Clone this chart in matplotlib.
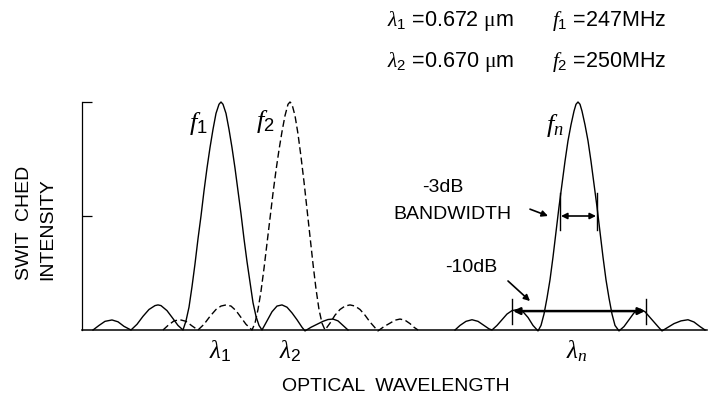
import matplotlib.pyplot as plt

plt.rcParams['font.family'] = 'Liberation Sans'
plt.rcParams['mathtext.fontset'] = 'custom'
plt.rcParams['mathtext.it'] = 'Liberation Serif:italic'
plt.rcParams['mathtext.rm'] = 'Liberation Sans'
plt.rcParams['mathtext.cal'] = 'Liberation Serif'

# curves: x = position along the wavelength axis, y = relative intensity
f1_x = [93, 99, 105, 112, 118, 124, 131, 137, 143, 149, 155, 158, 161, 167, 173, 178, 183,
        186, 189, 192, 195, 198, 201, 204, 207, 210, 213, 216, 219, 221,
        223, 226, 229, 232, 235, 238, 241, 244, 247, 250, 253, 256, 259, 262,
        267, 272, 277, 282, 287, 292, 297, 302, 305, 311, 317, 323, 328, 333, 338, 343, 348]
f1_y = [0, 0.02, 0.038, 0.044, 0.036, 0.016, 0, 0.025, 0.06, 0.09, 0.107, 0.11, 0.107, 0.085, 0.05, 0.02, 0,
        0.04, 0.1, 0.19, 0.29, 0.4, 0.5, 0.61, 0.71, 0.8, 0.88, 0.95, 0.99, 1.0,
        0.99, 0.95, 0.88, 0.8, 0.71, 0.61, 0.51, 0.4, 0.3, 0.21, 0.12, 0.06, 0.02, 0,
        0.04, 0.08, 0.105, 0.11, 0.1, 0.075, 0.045, 0.012, -0.004, 0.012, 0.025, 0.038, 0.046, 0.048, 0.04, 0.02, 0]

f2_x = [163, 168, 174, 180, 186, 192, 198, 204, 210, 216, 221, 226, 231, 236, 241, 246, 252,
        255, 258, 261, 264, 267, 270, 273, 276, 279, 282, 285, 288, 290,
        292, 295, 298, 301, 304, 307, 310, 313, 316, 319, 322, 325,
        330, 335, 340, 345, 350, 355, 360, 365, 370, 375, 378,
        384, 390, 395, 400, 405, 410, 414, 418]
f2_y = [0, 0.02, 0.04, 0.045, 0.038, 0.018, 0, 0.025, 0.06, 0.09, 0.105, 0.11, 0.105, 0.085, 0.055, 0.025, 0,
        0.03, 0.09, 0.17, 0.27, 0.38, 0.49, 0.6, 0.7, 0.79, 0.87, 0.94, 0.99, 1.0,
        0.99, 0.94, 0.86, 0.76, 0.65, 0.53, 0.41, 0.29, 0.18, 0.09, 0.03, 0,
        0.03, 0.065, 0.09, 0.105, 0.11, 0.105, 0.09, 0.065, 0.035, 0.01, -0.004,
        0.015, 0.03, 0.043, 0.048, 0.043, 0.028, 0.012, 0]

fn_x = [455, 460, 466, 472, 478, 484, 489, 492, 497, 502, 507, 512, 518, 523, 528, 533, 538,
        541, 544, 547, 550, 553, 556, 559, 562, 565, 568, 571, 574, 576, 578,
        580, 582, 585, 588, 591, 594, 597, 600, 603, 606, 609, 612, 615, 619,
        624, 629, 634, 640, 645, 650, 655, 659, 662,
        668, 674, 681, 688, 694, 700, 705]
fn_y = [0, 0.02, 0.038, 0.045, 0.038, 0.02, 0.005, 0, 0.02, 0.045, 0.07, 0.085, 0.09, 0.08, 0.055, 0.02, -0.004,
        0.02, 0.07, 0.14, 0.22, 0.32, 0.43, 0.54, 0.64, 0.74, 0.83, 0.9, 0.96, 0.99, 1.0,
        0.99, 0.96, 0.9, 0.83, 0.74, 0.64, 0.54, 0.43, 0.32, 0.22, 0.14, 0.07, 0.02, -0.004,
        0.015, 0.045, 0.075, 0.092, 0.08, 0.055, 0.03, 0.01, -0.004,
        0.012, 0.028, 0.04, 0.045, 0.035, 0.015, 0]

lambda_pos = [220, 290, 577]
lambda_labels = [r'$\lambda_1$', r'$\lambda_2$', r'$\lambda_n$']

# bandwidth markers on f_n
bw3_x = [560, 597]
bw3_y = 0.5
bw10_x = [512, 646]
bw10_y = 0.083

fig = plt.figure(figsize=(7.11, 4.06), dpi=100)
ax = fig.add_axes([82 / 711, 75 / 406, 625 / 711, 228 / 406])

ax.plot(f1_x, f1_y, color='black', lw=1.0, clip_on=False)
ax.plot(f2_x, f2_y, color='black', lw=1.0, ls=(0, (5, 2.5)), clip_on=False)
ax.plot(fn_x, fn_y, color='black', lw=1.0, clip_on=False)

ax.set_xlim(82, 707)
ax.set_ylim(0, 1)
for s in ['top', 'right']:
    ax.spines[s].set_visible(False)
ax.spines['left'].set_linewidth(0.9)
ax.spines['bottom'].set_linewidth(1.1)

ax.set_yticks([0.5, 1.0])
ax.set_yticklabels([])
ax.tick_params(axis='y', direction='in', length=7, width=0.9)
ax.set_xticks(lambda_pos)
ax.set_xticklabels(lambda_labels, fontsize=18)
ax.tick_params(axis='x', length=0, pad=5)

# -3dB bandwidth
for x in bw3_x:
    ax.plot([x, x], [bw3_y - 0.06, bw3_y + 0.1], color='black', lw=1.0)
ax.annotate('', xy=(bw3_x[0] + 1, bw3_y), xytext=(bw3_x[1] - 1, bw3_y),
            arrowprops=dict(arrowstyle='<|-|>', color='black', lw=1.2, mutation_scale=9,
                            shrinkA=0, shrinkB=0))
ax.annotate('', xy=(548, 0.5), xytext=(530, 0.53),
            arrowprops=dict(arrowstyle='-|>', color='black', lw=1.2, mutation_scale=9,
                            shrinkA=0, shrinkB=0))
ax.text(443, 0.63, '-3dB', fontsize=14, ha='center', va='center')
ax.text(452, 0.51, 'BANDWIDTH', fontsize=14, ha='center', va='center')

# -10dB bandwidth
for x in bw10_x:
    ax.plot([x, x], [bw10_y - 0.055, bw10_y + 0.055], color='black', lw=1.0)
ax.annotate('', xy=(bw10_x[0] + 1, bw10_y), xytext=(bw10_x[1] - 1, bw10_y),
            arrowprops=dict(arrowstyle='<|-|>', color='black', lw=1.8, mutation_scale=10,
                            shrinkA=0, shrinkB=0))
ax.annotate('', xy=(530, 0.127), xytext=(508, 0.215),
            arrowprops=dict(arrowstyle='-|>', color='black', lw=1.2, mutation_scale=9,
                            shrinkA=0, shrinkB=0))
ax.text(471, 0.28, '-10dB', fontsize=14, ha='center', va='center')

# peak labels
ax.text(198, 0.91, r'$f_1$', fontsize=19, ha='center', va='center')
ax.text(265, 0.92, r'$f_2$', fontsize=19, ha='center', va='center')
ax.text(555, 0.9, r'$f_n$', fontsize=19, ha='center', va='center')

# axis titles
fig.text(396 / 711, 1 - 387 / 406, 'OPTICAL  WAVELENGTH', fontsize=14, ha='center', va='center')
fig.text(25 / 711, 1 - 280 / 406, 'SWIT  CHED', fontsize=14, rotation=90, ha='center', va='bottom')
fig.text(48 / 711, 1 - 280 / 406, 'INTENSITY', fontsize=14, rotation=90, ha='center', va='bottom')

# header
fig.text(387 / 711, 1 - 21 / 406, r'$\lambda_1$ =0.672 $\mathcal{\mu}$m', fontsize=15.5, va='center')
fig.text(552 / 711, 1 - 21 / 406, r'$f_1$ =247MHz', fontsize=15.5, va='center')
fig.text(387 / 711, 1 - 62 / 406, r'$\lambda_2$ =0.670 $\mathcal{\mu}$m', fontsize=15.5, va='center')
fig.text(552 / 711, 1 - 62 / 406, r'$f_2$ =250MHz', fontsize=15.5, va='center')

fig.savefig('out.png', dpi=100)
